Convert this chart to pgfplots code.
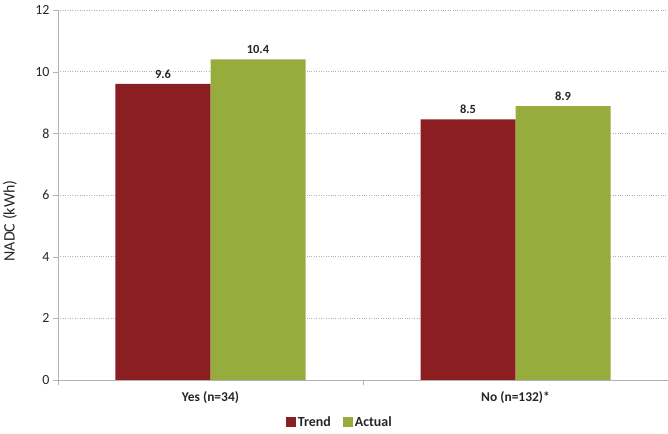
\documentclass[border=0pt]{standalone}
\usepackage{pgfplots}
\pgfplotsset{compat=1.18}
\usepackage{fontspec}
\setmainfont{Carlito}
\definecolor{trend}{HTML}{8A1E21}
\definecolor{actual}{HTML}{96AD3E}
\definecolor{txt}{HTML}{262626}
\begin{document}
\begin{tikzpicture}
\path[use as bounding box] (-58bp,-54bp) rectangle (610bp,380bp);
\begin{axis}[
  at={(0,0)}, anchor=south west,
  scale only axis, width=610bp, height=370bp,
  xmin=-0.5, xmax=1.5, ymin=0, ymax=12,
  ybar=0pt, bar width=95bp,
  xtick={0,1}, xticklabels={Yes (n=34), No (n=132)*},
  minor xtick={-0.5,0.5,1.5},
  ytick={0,2,...,12},
  axis x line*=bottom, axis y line*=left,
  axis line style={draw=gray!60, line width=0.8pt, -},
  major x tick style={draw=none},
  minor x tick style={draw=gray!60},
  major y tick style={draw=gray!60},
  tick align=outside, major tick length=5bp, minor tick length=5bp,
  ymajorgrids, grid style={dotted, gray!60, line width=0.7pt},
  tick label style={font=\fontsize{14}{16}\selectfont, text=txt},
  xticklabel style={font=\fontsize{13.5}{16}\selectfont\bfseries, yshift=-3bp},
  ylabel={NADC (kWh)},
  ylabel style={font=\fontsize{16}{18}\selectfont, text=txt, at={(axis description cs:-0.079,0.43)}, anchor=center},
  nodes near coords,
  every node near coord/.append style={font=\fontsize{12.5}{14}\selectfont\bfseries, text=txt, /pgf/number format/fixed, /pgf/number format/fixed zerofill, /pgf/number format/precision=1, /pgf/number format/assume math mode=true, yshift=2bp},
  legend style={at={(axis description cs:0.462,-0.1135)}, anchor=center, draw=none, fill=none, legend columns=2, font=\fontsize{14}{16}\selectfont\bfseries, text=txt, /tikz/every even column/.append style={column sep=10bp}},
  legend image code/.code={\fill[#1] (0bp,-5bp) rectangle (10bp,5bp);},
  /pgf/number format/assume math mode=true,
]
\addplot[fill=trend, draw=none] coordinates {(0,9.6) (1,8.45)};
\addlegendentry{Trend}
\addplot[fill=actual, draw=none] coordinates {(0,10.4) (1,8.88)};
\addlegendentry{Actual}
\end{axis}
\end{tikzpicture}
\end{document}
